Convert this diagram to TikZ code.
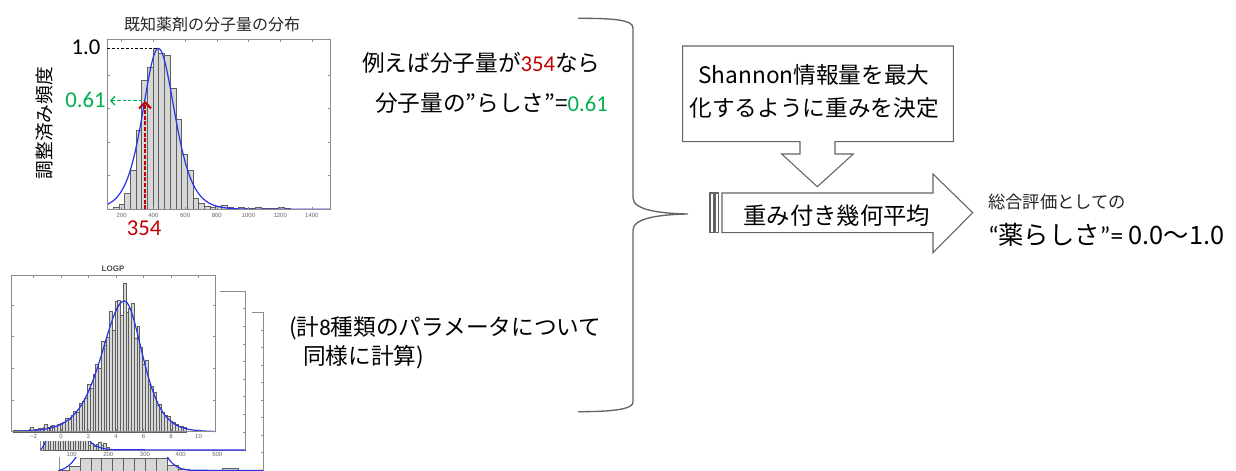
\documentclass[tikz,border=0pt]{standalone}
\usepackage{fontspec}
\setmainfont{Noto Sans CJK JP}
\newfontfamily\lat{Carlito}
\newfontfamily\tickfont{Liberation Sans}
\usetikzlibrary{arrows.meta}
\definecolor{myred}{RGB}{192,0,0}
\definecolor{mygreen}{RGB}{0,176,80}
\definecolor{myblue}{RGB}{40,50,235}
\definecolor{framec}{RGB}{140,140,140}
\definecolor{barfill}{RGB}{215,215,215}
\definecolor{baredge}{RGB}{95,95,95}
\definecolor{shapec}{RGB}{100,100,100}
\newcommand\fsz[1]{\fontsize{#1}{#1}\selectfont}
\tikzset{
 every node/.style={inner sep=0pt, outer sep=0pt},
 frameline/.style={draw=framec, line width=0.6pt},
 hbar/.style={fill=barfill, draw=baredge, line width=0.3pt},
 fitcurve/.style={draw=myblue, line width=0.9pt},
 ticklab/.style={font=\tickfont\fsz{4.5}, text=black!60},
 tickmark/.style={draw=framec, line width=0.4pt},
 shapeline/.style={draw=shapec, line width=0.8pt, fill=white},
}
\begin{document}
\begin{tikzpicture}[x=0.75pt,y=-0.75pt,
  declare function={
    topf(\x)=(\x<158.3)/(cosh((\x-158.3)/21)^2)+(\x>=158.3)/(cosh((\x-158.3)/22)^2);
    logpf(\x)=(\x<124.3)/(cosh((\x-124.3)/30)^2)+(\x>=124.3)/(cosh((\x-124.3)/24)^2);
  }]
\useasboundingbox (0,0) rectangle (1236,471);

% ================= top chart =================
\node[font=\fsz{12}, text=black!85] (title) at (212,24) {既知薬剤の分子量の分布};
\node[font=\fsz{14}, rotate=90] (ylab) at (44,123) {調整済み頻度};
\foreach \h [count=\i from 0] in {0.012,0.03,0.10,0.24,0.49,0.80,0.88,1.0,0.97,0.96,0.75,0.56,0.34,0.24,0.07,0.04,0.02,0.012,0.02,0.025,0.01,0.006,0.01,0.006,0.004,0.015,0.006,0.004,0.004,0.01,0.004}{
  \draw[hbar] ({113+\i*5.7},209.3) rectangle ++(5.7,{-161*\h});
}
\draw[fitcurve] plot[domain=107.3:260, samples=150] (\x,{209.3-161*topf(\x)}) -- (330,209.3);
\draw[frameline] (107.3,39.3) rectangle (330,209.3);
\foreach \k in {0,...,6}{
  \draw[tickmark] ({121.7+31.7*\k},209.3) -- ++(0,-2.5);
  \draw[tickmark] ({121.7+31.7*\k},39.3) -- ++(0,2.5);
}
\foreach \yy in {75.3,108.6,141.9,175.2}{
  \draw[tickmark] (107.3,\yy) -- ++(2.5,0);
  \draw[tickmark] (330,\yy) -- ++(-2.5,0);
}
\foreach \v [count=\k from 0] in {200,400,600,800,1000,1200,1400}{
  \node[ticklab] at ({121.7+31.7*\k},215) {\v};
}
\coordinate (peakL) at (107.3,48.3);
\coordinate (peak) at (157,48.3);
\draw[black, line width=0.6pt, dash pattern=on 2pt off 1.5pt] (peakL) -- (peak);
\node[font=\lat\fsz{17}] (one) at (86,47.5) {1.0};
\coordinate (redbase) at (145,209.3);
\coordinate (redtip) at (145,101);
\draw[myred, line width=1.5pt, dash pattern=on 3pt off 1.2pt, -{Straight Barb[length=4.5pt,width=9pt]}] (redbase) -- (redtip);
\coordinate (greenstart) at (142,100.7);
\coordinate (greenend) at (110,100.7);
\node[font=\lat\fsz{17}, text=mygreen] (val) at (85.5,100) {0.61};
\draw[mygreen, line width=1pt, dash pattern=on 2.5pt off 1.5pt, -{Straight Barb[length=3pt,width=6.5pt]}] (greenstart) -- (greenend);
\node[font=\lat\fsz{17}, text=myred] (mw) at (144,228) {354};

% ================= stacked charts (bottom) =================
\begin{scope}
\clip (0,0) rectangle (1236,471);
% third chart
\fill[white] (59,312.3) rectangle (263.3,480);
\draw[frameline] (251.7,312.3) -- (263.3,312.3) -- (263.3,480);
\draw[frameline] (59,440) -- (59,480);
\draw[hbar] (58.5,470) rectangle (69,480);
\draw[hbar] (69,466) rectangle (80,480);
\foreach \i in {0,...,7}{\draw[hbar] ({80+\i*10.84},458.3) rectangle ++(10.84,25);}
\draw[hbar] (166.7,465.5) rectangle (177.7,480);
\draw[hbar] (177.7,469) rectangle (188.7,480);
\draw[hbar] (222,468) rectangle (238,480);
\draw[fitcurve] (59,470.5) .. controls (68,468) and (76,462) .. (84,440);
\draw[fitcurve] (160,440) .. controls (168,464) and (176,469.5) .. (192,470.3) -- (263.3,470.5);
\foreach \yy in {330,347.3,365,382.3,400,417.7,435.7,452.7}{\draw[tickmark] (263.3,\yy) -- ++(-2.5,0);}
% second chart
\fill[white] (38,289) rectangle (248,457);
\draw[frameline] (220,291) -- (245.7,291) -- (245.7,450) -- (40.7,450) -- (40.7,436);
\foreach \i in {0,...,17}{\draw[hbar] ({43+\i*2.5},450) rectangle ++(2.5,-12);}
\foreach \h [count=\i from 0] in {5,7,4,6,8,5,7,3}{\draw[hbar] ({88+\i*2.6},450) rectangle ++(2.6,-\h);}
\draw[fitcurve] (40.7,450) .. controls (43,447) and (45,443) .. (48,436);
\draw[fitcurve] (86,436) .. controls (92,446) and (100,449.3) .. (115,449.8) -- (245.7,450);
\foreach \yy in {308,326.7,344,361.7,379.3,396.7,414.3,432.7}{\draw[tickmark] (245.7,\yy) -- ++(-2.5,0);}
\foreach \v/\xx in {100/71.7,200/108.3,300/145,400/180.7,500/217.3}{\node[ticklab] at (\xx,454.3) {\v};}
% LOGP chart
\fill[white] (0,262) rectangle (218,441);
\foreach \i in {0,...,62}{
  \pgfmathsetmacro{\cc}{13+(\i+0.5)*2.75}
  \pgfmathsetmacro{\hh}{130.7*logpf(\cc)*(1+0.13*sin(\i*137))+1.2}
  \draw[hbar] ({13+\i*2.75},431.7) rectangle ++(2.75,-\hh);
}
\draw[hbar] (30.5,431.7) rectangle ++(2.75,-4.5);
\draw[hbar] (44.2,431.7) rectangle ++(2.75,-7.5);
\draw[hbar] (49.7,431.7) rectangle ++(2.75,-6);
\draw[fitcurve] plot[domain=11.7:215.5, samples=160] (\x,{431.7-130.7*logpf(\x)});
\draw[frameline] (11.7,275) rectangle (215.5,431.7);
\foreach \v in {-2,0,2,4,6,8,10}{
  \draw[tickmark] ({61+13.75*\v},431.7) -- ++(0,-2.5);
  \draw[tickmark] ({61+13.75*\v},275) -- ++(0,2.5);
}
\foreach \yy in {305,336.7,368.3,400}{
  \draw[tickmark] (11.7,\yy) -- ++(2.5,0);
  \draw[tickmark] (215.5,\yy) -- ++(-2.5,0);
}
\foreach \v/\t in {-2/−2,0/0,2/2,4/4,6/6,8/8,10/10}{\node[ticklab] at ({61+13.75*\v},436.7) {\t};}
\node[font=\tickfont\bfseries\fsz{6}, text=black!70] (logp) at (113,269) {LOGP};
\end{scope}

% ================= middle texts =================
\node[font=\fsz{17}, anchor=west] (ex1) at (362,63) {例えば分子量が{\lat\color{myred}354}なら};
\node[font=\fsz{17}, anchor=west] (ex2) at (375,103) {分子量の”らしさ”={\lat\color{mygreen}0.61}};
\node[font=\fsz{17}, anchor=west] (all1) at (289,328) {(計{\lat 8}種類のパラメータについて};
\node[font=\fsz{17}, anchor=west] (all2) at (303,357) {同様に計算)};

% ================= brace =================
\coordinate (bracetop) at (578,18.3);
\coordinate (bracebot) at (578,411.7);
\coordinate (bracetip) at (688,214);
\draw[shapec, line width=1pt] (bracetop) .. controls (615,18.3) and (633,20) .. (633,28) -- (633,198)
  .. controls (633,210) and (660,213.5) .. (bracetip)
  .. controls (660,214.5) and (633,218) .. (633,230) -- (633,402)
  .. controls (633,409) and (615,411.7) .. (bracebot);

% ================= Shannon box with down arrow =================
\draw[shapeline] (682.7,46) -- (953.3,46) -- (953.3,141.7) -- (835,141.7) -- (835,154) -- (853.3,154)
  -- (817.3,186.7) -- (781.7,154) -- (800,154) -- (800,141.7) -- (682.7,141.7) -- cycle;
\node[font=\fsz{17}] (sh1) at (814,75) {Shannon情報量を最大};
\node[font=\fsz{17}] (sh2) at (814,108) {化するように重みを決定};

% ================= weighted mean arrow =================
\draw[shapeline] (710,193) rectangle (713.5,232.7);
\draw[shapeline] (715,193) rectangle (718.5,232.7);
\draw[shapeline] (722,193) -- (933,193) -- (933,174) -- (972.7,212.7) -- (933,252.7) -- (933,232.7) -- (722,232.7) -- cycle;
\node[font=\fsz{17.5}] (avg) at (836.7,216) {重み付き幾何平均};

% ================= result =================
\node[font=\fsz{13}, anchor=west, text=black!85] (res1) at (988,201.7) {総合評価としての};
\node[font=\fsz{19}, anchor=west] (res2) at (988,235) {{\lat “}薬らしさ{\lat ”=} 0.0〜1.0};
\end{tikzpicture}
\end{document}
